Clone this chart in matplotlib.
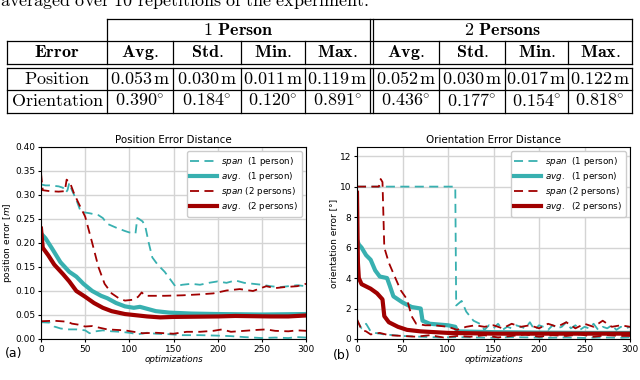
import numpy as np
import matplotlib
matplotlib.use('Agg')
import matplotlib.pyplot as plt

plt.rcParams['font.family'] = 'DejaVu Sans'
plt.rcParams['mathtext.fontset'] = 'dejavusans'

TEAL = '#38b0b0'
RED = '#a00000'

# ---- table data ----
groups = ['1 Person', '2 Persons']
stats = ['Avg.', 'Std.', 'Min.', 'Max.']
row_names = ['Position', 'Orientation']
pos_vals = ['0.053', '0.030', '0.011', '0.119', '0.052', '0.030', '0.017', '0.122']
ori_vals = ['0.390', '0.184', '0.120', '0.891', '0.436', '0.177', '0.154', '0.818']

# ---- position error (m) ----
p1_hi_x = [0, 5, 10, 20, 25, 28, 30, 32, 35, 40, 45, 55, 65, 70, 75, 85, 95, 100, 107, 109,
           111, 115, 118, 122, 126, 132, 140, 146, 152, 160, 170, 180, 190, 200, 210, 220,
           230, 240, 250, 260, 270, 280, 290, 300]
p1_hi_y = [0.322, 0.320, 0.320, 0.318, 0.315, 0.305, 0.310, 0.325, 0.310, 0.290, 0.265, 0.262,
           0.258, 0.252, 0.240, 0.232, 0.225, 0.222, 0.220, 0.252, 0.250, 0.245, 0.235, 0.200,
           0.170, 0.155, 0.140, 0.125, 0.110, 0.113, 0.115, 0.113, 0.117, 0.120, 0.117, 0.122,
           0.117, 0.115, 0.113, 0.110, 0.108, 0.110, 0.112, 0.110]
p1_lo_x = [0, 10, 15, 22, 30, 40, 50, 55, 62, 70, 80, 90, 100, 110, 120, 130, 145, 160, 180,
           200, 215, 230, 240, 250, 265, 280, 290, 300]
p1_lo_y = [0.035, 0.034, 0.026, 0.022, 0.020, 0.020, 0.018, 0.012, 0.016, 0.018, 0.016, 0.015,
           0.013, 0.010, 0.013, 0.011, 0.010, 0.008, 0.008, 0.007, 0.006, 0.004, 0.003, 0.002,
           0.003, 0.002, 0.004, 0.003]
p2_hi_x = [0, 2, 10, 20, 27, 29, 33, 37, 42, 50, 58, 65, 72, 80, 88, 95, 105, 110, 114, 118,
           125, 140, 160, 180, 195, 210, 225, 240, 255, 265, 275, 290, 300]
p2_hi_y = [0.345, 0.310, 0.308, 0.307, 0.308, 0.332, 0.325, 0.305, 0.285, 0.255, 0.200, 0.150,
           0.115, 0.095, 0.085, 0.080, 0.082, 0.088, 0.097, 0.090, 0.090, 0.090, 0.091, 0.093,
           0.095, 0.101, 0.104, 0.100, 0.110, 0.106, 0.108, 0.110, 0.115]
p2_lo_x = [0, 15, 30, 35, 42, 50, 58, 65, 75, 85, 95, 105, 115, 130, 150, 165, 180, 195, 205,
           215, 230, 245, 255, 265, 280, 290, 300]
p2_lo_y = [0.037, 0.038, 0.036, 0.032, 0.030, 0.026, 0.027, 0.024, 0.020, 0.019, 0.018, 0.015,
           0.012, 0.013, 0.011, 0.015, 0.015, 0.017, 0.020, 0.015, 0.017, 0.019, 0.020, 0.017,
           0.016, 0.018, 0.017]
p1_avg_x = [0, 5, 12, 22, 32, 40, 48, 58, 68, 75, 85, 95, 105, 112, 120, 130, 145, 170, 200,
            250, 300]
p1_avg_y = [0.220, 0.210, 0.190, 0.160, 0.140, 0.130, 0.115, 0.100, 0.090, 0.085, 0.075, 0.068,
            0.065, 0.067, 0.063, 0.058, 0.055, 0.053, 0.052, 0.051, 0.052]
p2_avg_x = [0, 2, 8, 15, 25, 32, 40, 50, 60, 70, 80, 95, 105, 120, 135, 150, 200, 220, 260,
            280, 300]
p2_avg_y = [0.230, 0.190, 0.175, 0.155, 0.135, 0.120, 0.100, 0.088, 0.075, 0.065, 0.058, 0.052,
            0.050, 0.047, 0.045, 0.046, 0.047, 0.048, 0.047, 0.047, 0.049]

# ---- orientation error (deg) ----
o1_hi_x = [0, 108, 109, 115, 120, 128, 135, 140, 145, 150, 155, 160, 165, 170, 175, 180, 185,
           190, 195, 200, 205, 210, 215, 220, 225, 230, 235, 240, 245, 250, 255, 260, 265,
           270, 275, 280, 285, 290, 295, 300]
o1_hi_y = [10.0, 10.0, 2.2, 2.5, 1.8, 1.2, 1.0, 0.6, 0.9, 0.7, 1.0, 0.6, 0.8, 0.7, 0.9, 0.8,
           0.7, 1.1, 0.6, 0.9, 0.8, 0.6, 0.9, 0.7, 0.8, 1.1, 0.7, 0.9, 0.6, 0.8, 0.7, 1.0,
           0.6, 0.8, 0.7, 0.9, 0.6, 0.8, 0.7, 0.8]
o1_lo_x = [0, 5, 10, 15, 20, 30, 40, 50, 70, 90, 110, 130, 150, 170, 190, 210, 230, 250, 270,
           290, 300]
o1_lo_y = [1.2, 0.7, 1.0, 0.5, 0.4, 0.3, 0.25, 0.2, 0.15, 0.1, 0.12, 0.1, 0.08, 0.12, 0.1,
           0.08, 0.1, 0.07, 0.1, 0.08, 0.1]
o2_hi_x = [0, 24, 26, 28, 30, 35, 40, 48, 55, 60, 65, 75, 85, 100, 110, 120, 130, 140, 150,
           160, 170, 180, 190, 200, 210, 220, 230, 240, 250, 260, 270, 280, 290, 300]
o2_hi_y = [10.0, 10.0, 10.5, 10.3, 6.0, 5.0, 4.3, 3.2, 2.6, 1.5, 1.0, 0.9, 0.9, 0.8, 0.6, 0.8,
           0.9, 0.8, 0.9, 0.7, 1.0, 0.8, 0.9, 0.7, 1.0, 0.8, 1.1, 0.7, 1.0, 0.8, 1.2, 0.8,
           0.9, 0.8]
o2_lo_x = [0, 5, 10, 15, 25, 35, 50, 65, 80, 95, 110, 125, 140, 155, 170, 185, 200, 215, 230,
           245, 260, 275, 290, 300]
o2_lo_y = [1.3, 0.6, 0.5, 0.3, 0.4, 0.25, 0.2, 0.15, 0.25, 0.1, 0.2, 0.15, 0.25, 0.1, 0.2,
           0.3, 0.15, 0.25, 0.2, 0.3, 0.15, 0.25, 0.2, 0.2]
o1_avg_x = [0, 2, 5, 10, 15, 20, 25, 33, 36, 40, 50, 60, 70, 72, 80, 100, 108, 110, 150, 200,
            250, 300]
o1_avg_y = [6.5, 6.2, 6.0, 5.5, 5.2, 4.5, 4.1, 4.0, 3.5, 2.8, 2.4, 2.1, 2.0, 1.2, 1.0, 0.9,
            0.8, 0.5, 0.45, 0.42, 0.4, 0.4]
o2_avg_x = [0, 1, 2, 5, 15, 22, 28, 30, 35, 45, 55, 70, 100, 150, 200, 250, 300]
o2_avg_y = [9.6, 5.0, 4.0, 3.6, 3.3, 3.0, 2.6, 1.5, 1.1, 0.8, 0.6, 0.5, 0.4, 0.35, 0.35,
            0.35, 0.35]

fig = plt.figure(figsize=(6.4, 3.8), dpi=100)

# overlay in pixel coordinates for the table
ov = fig.add_axes([0, 0, 1, 1])
ov.set_xlim(0, 640)
ov.set_ylim(380, 0)
ov.axis('off')

def hl(y, x0, x1):
    ov.plot([x0, x1], [y, y], color='black', lw=0.9)

def vl(x, y0, y1):
    ov.plot([x, x], [y0, y1], color='black', lw=0.9)

def tt(x, y, s, **kw):
    # latex-looking text for the table
    ov.text(x, y, s, fontsize=13, ha='center', va='center', math_fontfamily='cm', **kw)

cols = [7, 107, 173, 241, 305, 370, 439, 505, 568, 632]
top, mid, hbot, btop, bmid, bbot = 19, 41, 64, 68, 90, 113

hl(top, 107, 632)
hl(mid, 7, 632)
hl(hbot, 7, 632)
hl(btop, 7, 632)
hl(bmid, 7, 632)
hl(bbot, 7, 632)
for x in cols:
    if x in (107, 370, 632):
        vl(x, top, hbot)
    else:
        vl(x, mid, hbot)
    vl(x, btop, bbot)
vl(373, top, hbot)
vl(373, btop, bbot)

ov.text(0, 1, r'$\mathrm{averaged\ over\ 10\ repetitions\ of\ the\ experiment.}$',
        fontsize=13, ha='left', va='center', math_fontfamily='cm')
tt((107 + 370) / 2, 30, r'$\mathbf{%s}$' % groups[0].replace(' ', r'\ '))
tt((373 + 632) / 2, 30, r'$\mathbf{%s}$' % groups[1].replace(' ', r'\ '))
tt(57, 52, r'$\mathbf{Error}$')
centers = []
for i in range(8):
    left = cols[i + 1] if i != 4 else 373
    right = cols[i + 2]
    centers.append((left + right) / 2)
for i, c in enumerate(centers):
    tt(c, 52, r'$\mathbf{%s}$' % stats[i % 4])
    tt(c, 79, r'$\mathrm{%s\,m}$' % pos_vals[i])
    tt(c, 101, r'$\mathrm{%s^{\circ}}$' % ori_vals[i])
tt(57, 79, r'$\mathrm{%s}$' % row_names[0])
tt(57, 101, r'$\mathrm{%s}$' % row_names[1])

# ---- charts ----
ax1 = fig.add_axes([41 / 640, 41 / 380, 265 / 640, 192 / 380])
ax2 = fig.add_axes([357 / 640, 41 / 380, 273 / 640, 192 / 380])

dash = dict(ls=(0, (5, 3)), lw=1.3)
labels = [r'$\it{span}$  (1 person)', r'$\it{avg.}$  (1 person)',
          r'$\it{span}$ (2 persons)', r'$\it{avg.}$  (2 persons)']

def draw(ax, hi1, lo1, avg1, hi2, lo2, avg2):
    ax.plot(hi1[0], hi1[1], color=TEAL, label=labels[0], **dash)
    ax.plot(lo1[0], lo1[1], color=TEAL, **dash)
    ax.plot(avg1[0], avg1[1], color=TEAL, lw=3, label=labels[1])
    ax.plot(hi2[0], hi2[1], color=RED, label=labels[2], **dash)
    ax.plot(lo2[0], lo2[1], color=RED, **dash)
    ax.plot(avg2[0], avg2[1], color=RED, lw=3, label=labels[3])
    ax.set_xlim(0, 300)
    ax.set_xticks(range(0, 301, 50))
    ax.grid(True, color='#d4d4d4', lw=1)
    ax.tick_params(labelsize=6.5, length=2.5, pad=1.5)
    ax.set_xlabel('optimizations', fontsize=6.3, style='italic', labelpad=1)
    ax.legend(loc='upper right', fontsize=6.3, handlelength=3.0, borderpad=0.4,
              labelspacing=0.25, handletextpad=0.5, framealpha=1)

draw(ax1, (p1_hi_x, p1_hi_y), (p1_lo_x, p1_lo_y), (p1_avg_x, p1_avg_y),
     (p2_hi_x, p2_hi_y), (p2_lo_x, p2_lo_y), (p2_avg_x, p2_avg_y))
ax1.set_ylim(0, 0.4)
ax1.set_yticks(np.arange(0, 0.41, 0.05))
ax1.set_title('Position Error Distance', fontsize=7.4, pad=3)
ax1.set_ylabel('position error [$m$]', fontsize=6.5, labelpad=1)

draw(ax2, (o1_hi_x, o1_hi_y), (o1_lo_x, o1_lo_y), (o1_avg_x, o1_avg_y),
     (o2_hi_x, o2_hi_y), (o2_lo_x, o2_lo_y), (o2_avg_x, o2_avg_y))
ax2.set_ylim(0, 12.6)
ax2.set_yticks(range(0, 13, 2))
ax2.set_title('Orientation Error Distance', fontsize=7.4, pad=3)
ax2.set_ylabel('orientation error [°]', fontsize=6.5, labelpad=1)

ov.text(5, 353, '(a)', fontsize=9, ha='left', va='center')
ov.text(333, 355, '(b)', fontsize=9, ha='left', va='center')

fig.savefig('out.png', dpi=100)
